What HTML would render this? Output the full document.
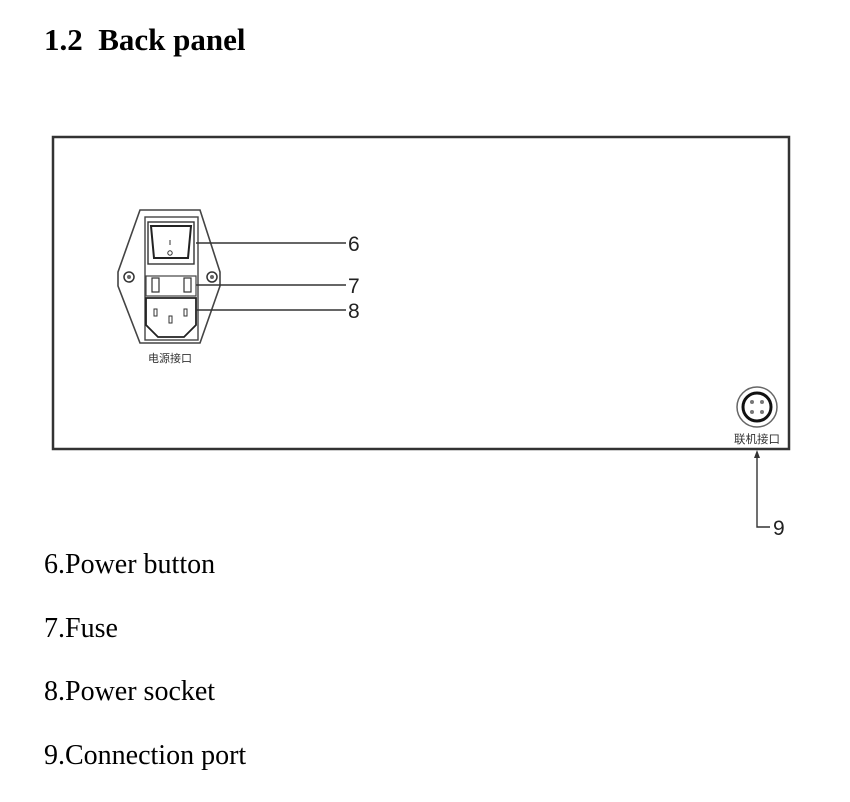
<!DOCTYPE html>
<html><head><meta charset="utf-8"><style>
body{margin:0;width:850px;height:802px;background:#fff;overflow:hidden}
svg{display:block}
</style></head><body>
<svg width="850" height="802" viewBox="0 0 850 802" xmlns="http://www.w3.org/2000/svg">
<text x="44" y="50" font-family="Liberation Serif, serif" font-weight="bold" font-size="31" fill="#000" xml:space="preserve">1.2&#160; Back panel</text>
<rect x="53" y="137" width="736" height="312" fill="#fff" stroke="#333" stroke-width="2.5"/>
<polygon points="140,210 200,210 220,272 220,286 200,343 140,343 118,286 118,272" fill="#fff" stroke="#444" stroke-width="1.6"/>
<rect x="145" y="217" width="53" height="123" fill="#fff" stroke="#444" stroke-width="1.4"/>
<rect x="148" y="222" width="46" height="42" fill="#fff" stroke="#333" stroke-width="1.4"/>
<polygon points="151,226 191,226 188,258 154,258" fill="#fff" stroke="#222" stroke-width="2"/>
<line x1="170" y1="240" x2="170" y2="245" stroke="#333" stroke-width="1"/>
<circle cx="170" cy="253" r="2.2" fill="none" stroke="#333" stroke-width="1"/>
<rect x="146" y="276" width="50" height="20" fill="#fff" stroke="#444" stroke-width="1.2"/>
<rect x="152" y="278" width="7" height="14" fill="#fff" stroke="#333" stroke-width="1.2"/>
<rect x="184" y="278" width="7" height="14" fill="#fff" stroke="#333" stroke-width="1.2"/>
<polygon points="146,298 196,298 196,325 184,337 158,337 146,325" fill="#fff" stroke="#222" stroke-width="1.8"/>
<rect x="154" y="309" width="3" height="7" fill="none" stroke="#333" stroke-width="1"/>
<rect x="184" y="309" width="3" height="7" fill="none" stroke="#333" stroke-width="1"/>
<rect x="169" y="316" width="3" height="7" fill="none" stroke="#333" stroke-width="1"/>
<circle cx="129" cy="277" r="5" fill="#fff" stroke="#333" stroke-width="1.5"/>
<circle cx="129" cy="277" r="2" fill="#666"/>
<circle cx="212" cy="277" r="5" fill="#fff" stroke="#333" stroke-width="1.5"/>
<circle cx="212" cy="277" r="2" fill="#666"/>
<g stroke="#333" stroke-width="1.5">
<line x1="196" y1="243" x2="346" y2="243"/>
<line x1="196" y1="285" x2="346" y2="285"/>
<line x1="196" y1="310" x2="346" y2="310"/>
</g>
<g font-family="Liberation Sans, sans-serif" font-size="21" fill="#222">
<text x="348" y="251">6</text><text x="348" y="293">7</text><text x="348" y="318">8</text>
<text x="773" y="535">9</text>
</g>
<text x="170" y="362" text-anchor="middle" font-family="Liberation Sans, 'Noto Sans CJK SC', sans-serif" font-size="11" fill="#333">电源接口</text>
<circle cx="757" cy="407" r="20" fill="#fff" stroke="#666" stroke-width="1.5"/>
<circle cx="757" cy="407" r="14" fill="#fff" stroke="#111" stroke-width="3"/>
<circle cx="752" cy="402" r="2" fill="#777"/><circle cx="762" cy="402" r="2" fill="#777"/>
<circle cx="752" cy="412" r="2" fill="#777"/><circle cx="762" cy="412" r="2" fill="#777"/>
<text x="757" y="443" text-anchor="middle" font-family="Liberation Sans, 'Noto Sans CJK SC', sans-serif" font-size="11.5" fill="#333">联机接口</text>
<polyline points="757,455 757,527 770,527" fill="none" stroke="#333" stroke-width="1.4"/>
<polygon points="757,450 754,458 760,458" fill="#333"/>
<g font-family="Liberation Serif, serif" font-size="28" fill="#000">
<text x="44" y="573">6.Power button</text>
<text x="44" y="637">7.Fuse</text>
<text x="44" y="700">8.Power socket</text>
<text x="44" y="764">9.Connection port</text>
</g>
</svg>
</body></html>
